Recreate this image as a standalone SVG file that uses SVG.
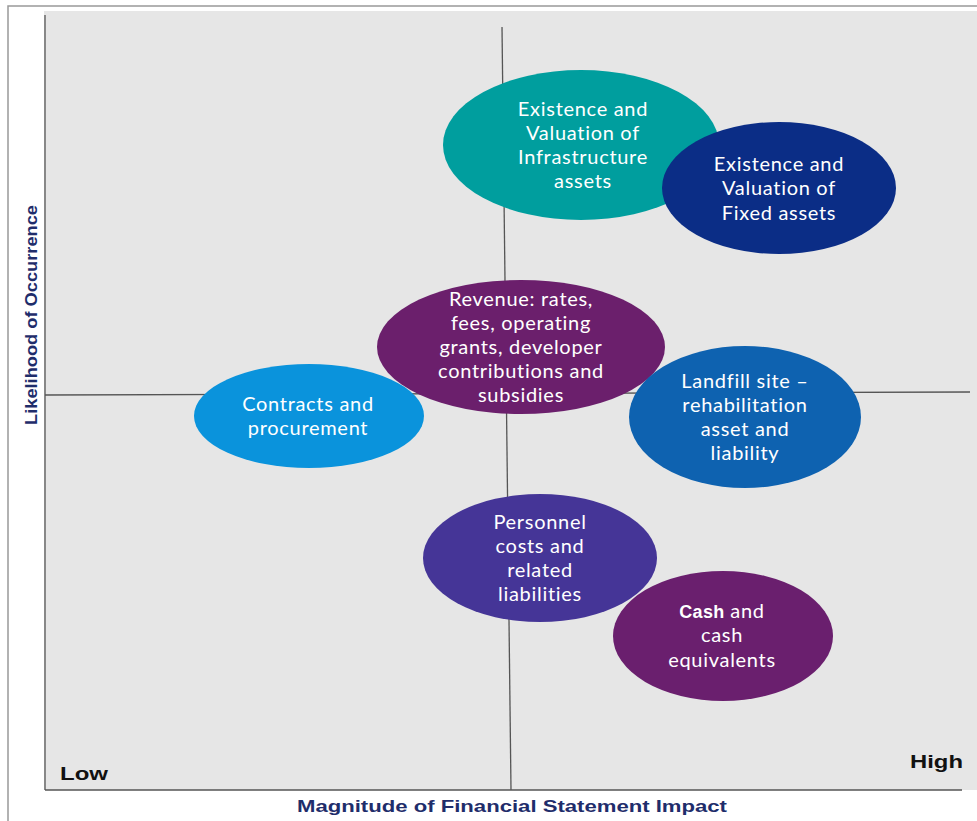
<svg xmlns="http://www.w3.org/2000/svg" width="977" height="821" viewBox="0 0 977 821">
<style>
.lbl{font-family:Lato,"Open Sans","Liberation Sans",sans-serif;font-size:20px;letter-spacing:0.7px;fill:#fff;text-anchor:middle}
.axis{stroke:#555;stroke-width:1.3;fill:none}
.ax{font-family:"Liberation Sans",Arial,sans-serif;font-weight:bold;fill:#1F2D6B}
.lh{font-family:"Liberation Sans",Arial,sans-serif;font-weight:bold;fill:#111;font-size:18px}
</style>
<rect x="0" y="0" width="977" height="821" fill="#fff"/>
<path d="M8,821 V6 H977" stroke="#999" stroke-width="1.5" fill="none"/>
<rect x="44" y="11" width="933" height="779" fill="#E6E6E6"/>
<g id="axes">
<line class="axis" x1="45" y1="15" x2="45" y2="790"/>
<line class="axis" x1="45" y1="790" x2="962" y2="790"/>
<line class="axis" x1="502" y1="27" x2="511" y2="790"/>
<line class="axis" x1="45" y1="395" x2="970" y2="392"/>
</g>
<g id="n-infra">
<ellipse cx="581" cy="145" rx="138" ry="75" fill="#009E9E"/>
<text class="lbl"><tspan x="583" y="116">Existence and</tspan><tspan x="583" y="140">Valuation of</tspan><tspan x="583" y="164">Infrastructure</tspan><tspan x="583" y="188">assets</tspan></text>
</g>
<g id="n-fixed">
<ellipse cx="779" cy="188" rx="117" ry="66" fill="#0B2D86"/>
<text class="lbl"><tspan x="779" y="171">Existence and</tspan><tspan x="779" y="195">Valuation of</tspan><tspan x="779" y="220">Fixed assets</tspan></text>
</g>
<g id="n-contracts">
<ellipse cx="309" cy="416" rx="115" ry="52" fill="#0A93DC"/>
<text class="lbl"><tspan x="308" y="411">Contracts and</tspan><tspan x="308" y="435">procurement</tspan></text>
</g>
<g id="n-revenue">
<ellipse cx="521" cy="347" rx="144" ry="67" fill="#6B1F6C"/>
<text class="lbl"><tspan x="521" y="306">Revenue: rates,</tspan><tspan x="521" y="330">fees, operating</tspan><tspan x="521" y="354">grants, developer</tspan><tspan x="521" y="378">contributions and</tspan><tspan x="521" y="402">subsidies</tspan></text>
</g>
<g id="n-landfill">
<ellipse cx="745" cy="417" rx="116" ry="71" fill="#0E62B0"/>
<text class="lbl"><tspan x="745" y="388">Landfill site –</tspan><tspan x="745" y="412">rehabilitation</tspan><tspan x="745" y="436">asset and</tspan><tspan x="745" y="460">liability</tspan></text>
</g>
<g id="n-personnel">
<ellipse cx="540" cy="558" rx="117" ry="64" fill="#453597"/>
<text class="lbl"><tspan x="540" y="529">Personnel</tspan><tspan x="540" y="553">costs and</tspan><tspan x="540" y="577">related</tspan><tspan x="540" y="601">liabilities</tspan></text>
</g>
<g id="n-cash">
<ellipse cx="723" cy="636" rx="110" ry="65" fill="#6A1F6E"/>
<text class="lbl"><tspan x="722" y="618"><tspan font-family="'Liberation Sans',Arial,sans-serif" font-weight="bold" font-size="18" letter-spacing="0.3">Cash</tspan> and</tspan><tspan x="722" y="642">cash</tspan><tspan x="722" y="667">equivalents</tspan></text>
</g>
<text class="ax" font-size="16" transform="translate(37,315) rotate(-90)" text-anchor="middle" textLength="220" lengthAdjust="spacingAndGlyphs">Likelihood of Occurrence</text>
<text class="ax" font-size="17" x="512" y="812" text-anchor="middle" textLength="430" lengthAdjust="spacingAndGlyphs">Magnitude of Financial Statement Impact</text>
<text class="lh" x="60" y="780" textLength="48" lengthAdjust="spacingAndGlyphs">Low</text>
<text class="lh" x="910" y="768" textLength="53" lengthAdjust="spacingAndGlyphs">High</text>
</svg>
